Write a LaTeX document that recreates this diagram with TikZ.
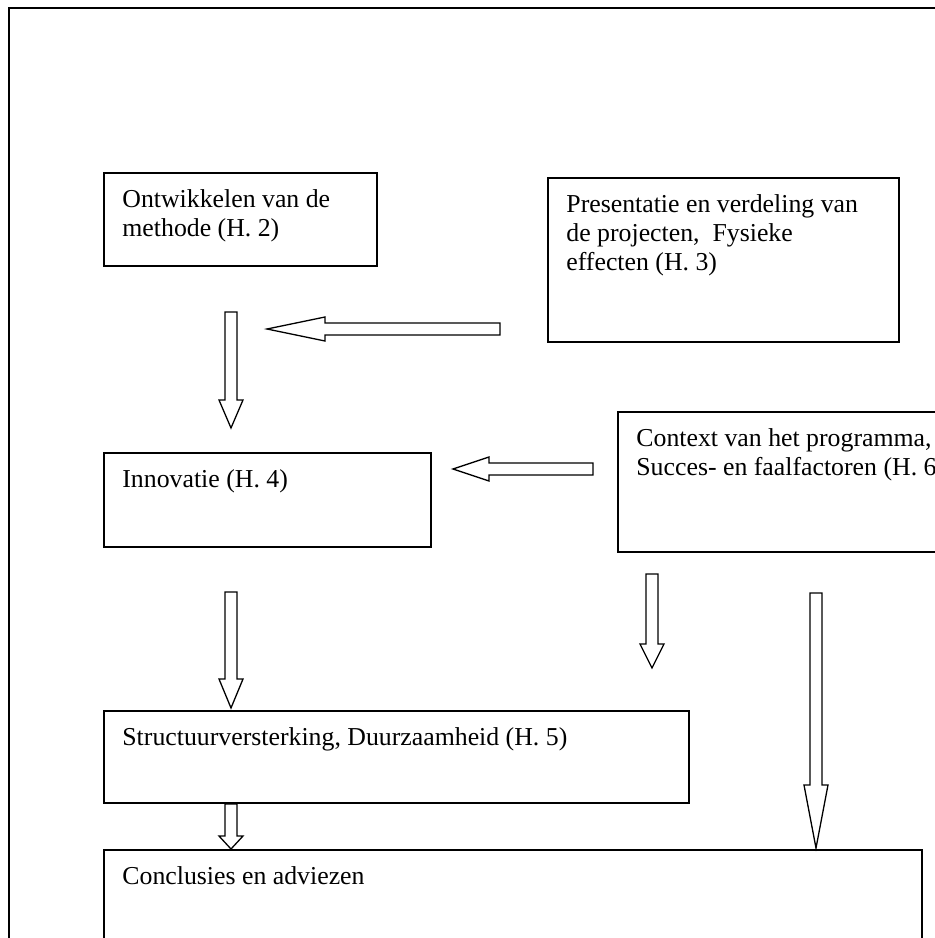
\documentclass[tikz,border=0pt]{standalone}
\usepackage{fontspec}
\setmainfont{Liberation Serif}
\usetikzlibrary{positioning, calc}

\tikzset{
  box/.style={draw, line width=1pt, anchor=north west, inner sep=0pt},
  boxtext/.style={anchor=north west, align=left, inner xsep=9.5pt, inner ysep=8.5pt,
    font=\fontsize{12.9}{14.6}\selectfont, execute at begin node=\rule{0pt}{9pt}},
  blockarrow/.style={draw, line width=0.65pt, fill=white, line join=miter},
}

% hollow block arrows: start, tip, head length
\newcommand{\blockdown}[3]{%
  \draw[blockarrow] ($(#1)+(-6,0)$) -- ($(#2)+(-6,-#3)$) -- ($(#2)+(-12,-#3)$) -- (#2)
    -- ($(#2)+(12,-#3)$) -- ($(#2)+(6,-#3)$) -- ($(#1)+(6,0)$) -- cycle;}
\newcommand{\blockleft}[3]{%
  \draw[blockarrow] ($(#1)+(0,-6)$) -- ($(#2)+(#3,-6)$) -- ($(#2)+(#3,-12)$) -- (#2)
    -- ($(#2)+(#3,12)$) -- ($(#2)+(#3,6)$) -- ($(#1)+(0,6)$) -- cycle;}

\begin{document}
\begin{tikzpicture}[x=0.5pt, y=-0.5pt]
  \useasboundingbox (0,0) rectangle (935,938);
  \clip (0,0) rectangle (935,938);

  % Outer frame
  \draw[line width=0.75pt] (9,960) -- (9,8) -- (960,8);

  % Boxes
  \node[box, minimum width=136.5pt, minimum height=46.5pt] (ontw) at (103,172) {};
  \node[boxtext] (ontw-txt) at (ontw.north west) {Ontwikkelen van de\\methode (H. 2)};

  \node[box, minimum width=175.5pt, minimum height=82pt] (pres) at (547,177) {};
  \node[boxtext] (pres-txt) at (pres.north west) {Presentatie en verdeling van\\de projecten, \ Fysieke\\effecten (H. 3)};

  \node[box, minimum width=163.5pt, minimum height=47pt] (innov) at (103,452) {};
  \node[boxtext] (innov-txt) at (innov.north west) {Innovatie (H. 4)};

  \node[box, minimum width=200pt, minimum height=70pt] (ctx) at (617,411) {};
  \node[boxtext] (ctx-txt) at (ctx.north west) {Context van het programma,\\Succes- en faalfactoren (H. 6)};

  \node[box, minimum width=292.5pt, minimum height=46pt] (struct) at (103,710) {};
  \node[boxtext] (struct-txt) at (struct.north west) {Structuurversterking, Duurzaamheid (H. 5)};

  \node[box, minimum width=409pt, minimum height=80pt] (concl) at (103,849) {};
  \node[boxtext] (concl-txt) at (concl.north west) {Conclusies en adviezen};

  % Arrow ends
  \coordinate (a1s) at (231,312);  \coordinate (a1e) at (231,428);
  \coordinate (a2s) at (500,329);  \coordinate (a2e) at (267,329);
  \coordinate (a3s) at (593,469);  \coordinate (a3e) at (453,469);
  \coordinate (a4s) at (231,592);  \coordinate (a4e) at (231,708);
  \coordinate (a5s) at (652,574);  \coordinate (a5e) at (652,668);
  \coordinate (a6s) at (816,593);  \coordinate (a6e) at (816,848);
  \coordinate (a7s) at (struct.south west -| a1s);  \coordinate (a7e) at (concl.north west -| a1s);

  % Arrows
  \blockdown{a1s}{a1e}{28}
  \blockleft{a2s}{a2e}{58}
  \blockleft{a3s}{a3e}{36}
  \blockdown{a4s}{a4e}{29}
  \blockdown{a5s}{a5e}{24}
  \blockdown{a6s}{a6e}{63}
  \blockdown{a7s}{a7e}{13}
\end{tikzpicture}
\end{document}
